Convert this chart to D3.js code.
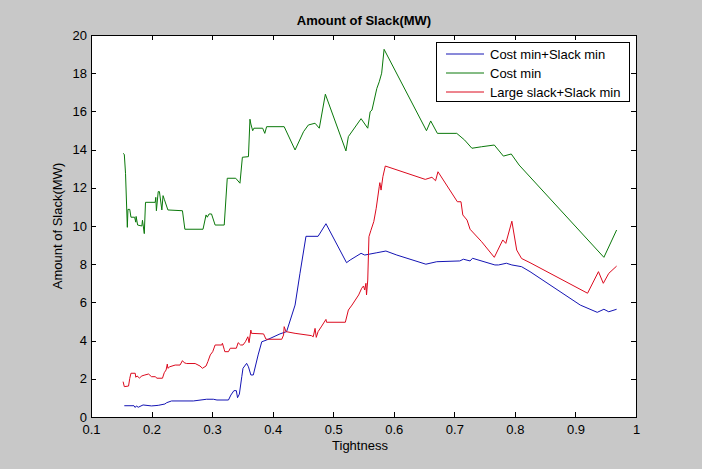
<!DOCTYPE html>
<html>
<head>
  <meta charset="utf-8">
  <script src="https://d3js.org/d3.v7.min.js"></script>
  <style>
    body {
      margin: 0;
      background-color: #c8c8c8;
    }
    svg {
      display: block;
      font-family: "Liberation Sans", Arial, sans-serif;
    }
    .axis text {
      font-size: 13px;
      fill: #000;
    }
    .axis line {
      stroke: #000;
      shape-rendering: crispEdges;
    }
    .axis path {
      display: none;
    }
  </style>
</head>
<body>
<div id="chart"></div>

<script>
    // series values: tightness / amount of slack
    var costSlackT = [0.155,0.171,0.173,0.175,0.178,0.186,0.2,0.211,0.222,0.225,0.233,0.269,0.291,0.302,0.308,0.327,0.331,0.336,0.34,0.342,0.345,0.349,0.351,0.357,0.36,0.364,0.368,0.376,0.382,0.39,0.412,0.423,0.437,0.445,0.455,0.475,0.488,0.522,0.528,0.546,0.552,0.572,0.587,0.605,0.653,0.671,0.709,0.715,0.726,0.73,0.767,0.773,0.786,0.795,0.811,0.825,0.908,0.936,0.947,0.955,0.968];
    var costSlackV = [0.59,0.59,0.5,0.58,0.51,0.63,0.58,0.61,0.68,0.75,0.84,0.84,0.93,0.93,0.89,0.89,1.15,1.38,1.38,1.01,1.2,2.11,2.55,2.81,2.63,2.2,2.2,3.25,3.94,4.03,4.35,4.47,5.86,7.5,9.46,9.46,10.12,8.08,8.22,8.57,8.48,8.6,8.69,8.48,8.0,8.13,8.17,8.26,8.17,8.31,7.96,7.96,8.05,7.96,7.87,7.61,5.86,5.48,5.64,5.51,5.64];

    var costT = [0.153,0.155,0.157,0.160,0.161,0.164,0.166,0.172,0.174,0.1745,0.177,0.184,0.185,0.188,0.190,0.206,0.207,0.208,0.211,0.213,0.217,0.219,0.221,0.227,0.251,0.255,0.285,0.29,0.292,0.295,0.299,0.305,0.32,0.325,0.339,0.346,0.35,0.36,0.3625,0.364,0.367,0.369,0.3835,0.387,0.39,0.419,0.437,0.451,0.459,0.47,0.477,0.487,0.521,0.525,0.546,0.557,0.561,0.564,0.572,0.576,0.58,0.584,0.654,0.661,0.672,0.704,0.717,0.729,0.745,0.766,0.781,0.794,0.807,0.947,0.968];
    var costV = [13.8,13.75,12.76,9.93,10.87,10.87,10.46,10.46,10.2,10.5,10.05,10.0,10.3,9.6,11.24,11.24,11.5,10.8,11.8,11.8,10.84,11.59,11.4,10.84,10.8,9.83,9.83,10.58,10.46,10.63,10.63,10.05,10.05,12.5,12.5,12.24,13.6,13.63,15.59,15.34,14.99,15.12,15.12,14.85,15.2,15.2,13.98,14.94,15.29,15.38,15.12,16.9,13.93,14.68,15.62,15.12,15.98,16.07,17.2,17.55,18.0,19.25,14.99,15.5,14.85,14.85,14.5,14.07,14.15,14.24,13.66,13.77,13.19,8.36,9.79];

    var largeSlackT = [0.153,0.155,0.162,0.164,0.166,0.173,0.174,0.176,0.18,0.184,0.189,0.195,0.2,0.206,0.209,0.218,0.221,0.224,0.226,0.227,0.23,0.239,0.247,0.251,0.254,0.258,0.272,0.28,0.284,0.29,0.293,0.297,0.301,0.305,0.316,0.317,0.32,0.321,0.327,0.33,0.34,0.343,0.347,0.351,0.355,0.359,0.361,0.364,0.365,0.385,0.389,0.415,0.418,0.419,0.422,0.437,0.464,0.467,0.47,0.472,0.475,0.481,0.488,0.489,0.52,0.525,0.531,0.542,0.547,0.55,0.552,0.554,0.555,0.557,0.559,0.562,0.567,0.571,0.576,0.577,0.579,0.582,0.586,0.652,0.663,0.669,0.673,0.705,0.711,0.714,0.721,0.726,0.745,0.766,0.78,0.785,0.795,0.803,0.811,0.825,0.92,0.938,0.946,0.955,0.968];
    var largeSlackV = [1.85,1.59,1.62,2.02,2.29,2.29,2.08,2.15,2.04,2.15,2.2,2.25,2.11,2.11,2.03,2.03,2.32,2.46,2.77,2.55,2.63,2.72,2.72,2.95,2.84,2.8,2.8,2.67,2.55,2.67,2.9,3.25,3.42,3.77,3.77,3.86,3.54,3.42,3.42,3.6,3.6,3.89,3.77,3.77,3.94,4.2,3.89,4.55,4.38,4.35,4.07,4.07,4.29,4.73,4.47,4.38,4.26,4.2,4.64,4.17,4.47,4.76,5.11,4.96,4.96,5.6,5.86,6.39,6.74,6.86,6.65,7.0,6.39,7.17,9.44,9.75,10.23,10.93,12.06,12.27,11.88,12.58,13.14,12.44,12.55,12.37,12.84,11.27,11.27,10.58,10.31,9.83,9.18,8.36,9.27,9.09,10.25,8.74,8.3,8.08,6.48,7.61,7.0,7.52,7.9];

    var seriesNames = ["Cost min+Slack min", "Cost min", "Large slack+Slack min"];
    var seriesColors = ["#1414b4", "#0a780a", "#dc0a1e"];

    var xTicks = [0.1, 0.2, 0.3, 0.4, 0.5, 0.6, 0.7, 0.8, 0.9, 1];
    var xTickLabels = ["0.1", "0.2", "0.3", "0.4", "0.5", "0.6", "0.7", "0.8", "0.9", "1"];
    var yTicks = [0, 2, 4, 6, 8, 10, 12, 14, 16, 18, 20];
</script>
<script>
    var margin = {top: 35, right: 66, bottom: 52, left: 91},
        width = 702 - margin.left - margin.right,
        height = 469 - margin.top - margin.bottom;

    var svg = d3.select("#chart")
        .append("svg")
        .attr("width", 702)
        .attr("height", 469);

    var g = svg.append("g")
        .attr("transform", "translate(" + margin.left + "," + margin.top + ")");

    var x = d3.scaleLinear().domain([0.1, 1]).range([0, width]);
    var y = d3.scaleLinear().domain([0, 20]).range([height, 0]);

    // white plot area
    g.append("rect")
        .attr("width", width)
        .attr("height", height)
        .attr("fill", "#fff");

    // axes, ticks pointing inward on all four sides
    g.append("g")
        .attr("class", "axis")
        .attr("transform", "translate(0," + height + ")")
        .call(d3.axisBottom(x).tickValues(xTicks).tickSizeInner(-5).tickSizeOuter(0).tickPadding(8)
            .tickFormat(function (d, i) { return xTickLabels[i]; }));

    g.append("g")
        .attr("class", "axis")
        .call(d3.axisTop(x).tickValues(xTicks).tickSizeInner(-5).tickSizeOuter(0).tickFormat(""));

    g.append("g")
        .attr("class", "axis")
        .call(d3.axisLeft(y).tickValues(yTicks).tickSizeInner(-5).tickSizeOuter(0).tickPadding(4)
            .tickFormat(d3.format("d")));

    g.append("g")
        .attr("class", "axis")
        .attr("transform", "translate(" + width + ",0)")
        .call(d3.axisRight(y).tickValues(yTicks).tickSizeInner(-5).tickSizeOuter(0).tickFormat(""));

    // the lines
    var line = d3.line()
        .x(function (d) { return x(d[0]); })
        .y(function (d) { return y(d[1]); });

    var series = [
        d3.zip(costSlackT, costSlackV),
        d3.zip(costT, costV),
        d3.zip(largeSlackT, largeSlackV)
    ];

    g.selectAll(".series")
        .data(series)
        .enter()
        .append("path")
        .attr("class", "series")
        .attr("d", line)
        .attr("fill", "none")
        .attr("stroke", function (d, i) { return seriesColors[i]; })
        .attr("stroke-width", 1);

    // frame
    g.append("rect")
        .attr("width", width)
        .attr("height", height)
        .attr("fill", "none")
        .attr("stroke", "#000")
        .attr("shape-rendering", "crispEdges");

    // legend
    var legend = g.append("g")
        .attr("transform", "translate(" + (width - 200) + ",7)");

    legend.append("rect")
        .attr("width", 193)
        .attr("height", 59)
        .attr("fill", "#fff")
        .attr("stroke", "#000")
        .attr("shape-rendering", "crispEdges");

    var items = legend.selectAll(".item")
        .data(seriesNames)
        .enter()
        .append("g")
        .attr("class", "item")
        .attr("transform", function (d, i) { return "translate(0," + (12 + i * 19) + ")"; });

    items.append("line")
        .attr("x1", 10)
        .attr("x2", 48)
        .attr("stroke", function (d, i) { return seriesColors[i]; });

    items.append("text")
        .attr("x", 54)
        .attr("y", 4.5)
        .style("font-size", "13px")
        .text(function (d) { return d; });

    // title and axis labels
    svg.append("text")
        .attr("x", 364)
        .attr("y", 25)
        .attr("text-anchor", "middle")
        .style("font-size", "13px")
        .style("font-weight", "bold")
        .text("Amount of Slack(MW)");

    svg.append("text")
        .attr("x", 360)
        .attr("y", 450)
        .attr("text-anchor", "middle")
        .style("font-size", "13px")
        .text("Tightness");

    svg.append("text")
        .attr("transform", "translate(62," + (margin.top + height / 2) + ") rotate(-90)")
        .attr("text-anchor", "middle")
        .style("font-size", "13px")
        .text("Amount of Slack(MW)");
</script>
</body>
</html>
